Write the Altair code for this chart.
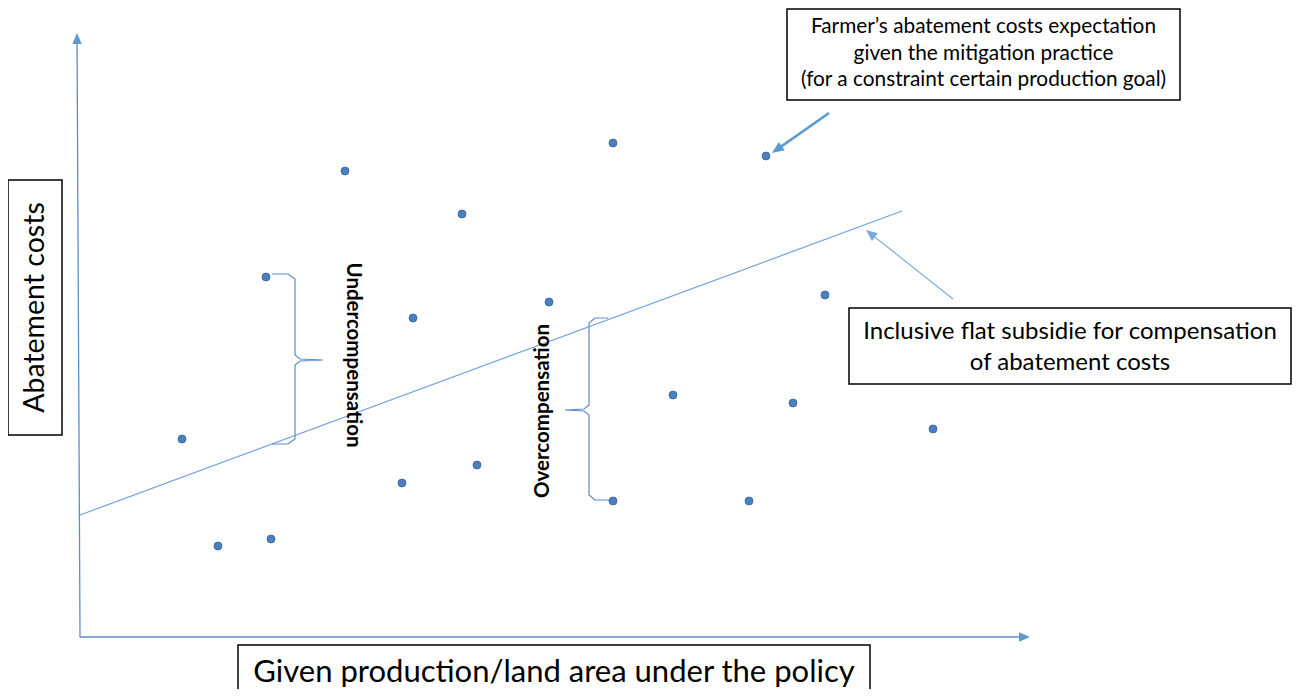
import altair as alt
import pandas as pd
import numpy as np

# ---------------- data (diagram units, origin at the axes' corner) ----------------
# farmer's abatement-cost expectations (scatter)
pt_x = [102, 138, 191, 186, 265, 333, 322, 382, 397, 469, 533, 533, 593, 669, 686, 713, 745, 853]
pt_y = [198, 91, 98, 360, 466, 319, 154, 423, 172, 335, 494, 136, 242, 136, 481, 234, 342, 208]

# inclusive flat subsidy line
sub_x = [0, 822]
sub_y = [122, 426]

# axes (start -> arrow tip)
yaxis_x = [0, -3]
yaxis_y = [0, 604]
xaxis_x = [0, 950]
xaxis_y = [0, 0]

# braces
under_x = [192, 208, 215, 215, 220, 243, 220, 215, 215, 208, 192]
under_y = [363, 363, 358, 282, 278, 277, 276, 272, 198, 193, 193]
over_x = [528, 515, 509, 509, 504, 485, 504, 509, 509, 515, 530]
over_y = [319, 319, 314, 232, 228, 227, 226, 222, 142, 137, 137]

# callout arrows (start -> tip)
call1_x = [749, 692]
call1_y = [524, 484]
call2_x = [873, 786]
call2_y = [338, 407]

# text boxes
box_x1 = [-72, 158, 707, 769]
box_x2 = [-18, 790, 1100, 1211]
box_y1 = [457, -8, 628, 329]
box_y2 = [202, -70, 537, 253]

y_title = "Abatement costs"
x_title = "Given production/land area under the policy"
note_top = "Farmer’s abatement costs expectation\ngiven the mitigation practice\n(for a constraint certain production goal)"
note_mid = "Inclusive flat subsidie for compensation\nof abatement costs"
lab_under = "Undercompensation"
lab_over = "Overcompensation"

# ---------------- build tables ----------------
XD = [-72, 1212]
YD = [-52, 629]
xs = alt.Scale(domain=XD)
ys = alt.Scale(domain=YD)
FONT = "Lato"


def path_df(groups):
    rows = []
    for gid, (gx, gy) in enumerate(groups):
        for i, (a, b) in enumerate(zip(gx, gy)):
            rows.append({"x": a, "y": b, "g": gid, "o": i})
    return pd.DataFrame(rows)


def arrow(gx, gy, head_len):
    x0, x1 = gx
    y0, y1 = gy
    dx, dy = x1 - x0, y1 - y0
    L = np.hypot(dx, dy)
    ux, uy = dx / L, dy / L
    shaft = ([x0, x1 - ux * head_len * 0.7], [y0, y1 - uy * head_len * 0.7])
    ang = float(np.degrees(np.arctan2(dx, dy)) % 360)
    return shaft, {"x": x1, "y": y1, "ang": ang}


HEAD = "M0,0L0.85,2L-0.85,2Z"

ax_y_shaft, ax_y_head = arrow(yaxis_x, yaxis_y, 11)
ax_x_shaft, ax_x_head = arrow(xaxis_x, xaxis_y, 11)
c1_shaft, c1_head = arrow(call1_x, call1_y, 12)
c2_shaft, c2_head = arrow(call2_x, call2_y, 12)


def line_layer(groups, color, width, opacity=1.0):
    return alt.Chart(path_df(groups)).mark_line(
        color=color, strokeWidth=width, opacity=opacity, strokeCap="butt"
    ).encode(
        x=alt.X("x:Q", scale=xs, axis=None),
        y=alt.Y("y:Q", scale=ys, axis=None),
        detail="g:N",
        order="o:Q",
    )


def head_layer(heads, color, size):
    return alt.Chart(pd.DataFrame(heads)).mark_point(
        shape=HEAD, filled=True, color=color, opacity=1, size=size
    ).encode(
        x=alt.X("x:Q", scale=xs, axis=None),
        y=alt.Y("y:Q", scale=ys, axis=None),
        angle=alt.Angle("ang:Q", scale=None),
    )


axes = line_layer([ax_y_shaft, ax_x_shaft], "#5b8fcc", 1.3)
axes_heads = head_layer([ax_y_head, ax_x_head], "#5b9bd5", 121)

subsidy = line_layer([(sub_x, sub_y)], "#6fa3dc", 1.2)
braces = line_layer([(under_x, under_y), (over_x, over_y)], "#5b8cc8", 1.2)

call1 = line_layer([c1_shaft], "#5b9bd5", 2.6)
call1_head = head_layer([c1_head], "#5b9bd5", 144)
call2 = line_layer([c2_shaft], "#7aa9dc", 1.1)
call2_head = head_layer([c2_head], "#7aa9dc", 130)

points = alt.Chart(pd.DataFrame({"x": pt_x, "y": pt_y})).mark_circle(
    size=62, color="#4a7fc0", opacity=1, stroke="#3b6aa3", strokeWidth=1
).encode(
    x=alt.X("x:Q", scale=xs, axis=None),
    y=alt.Y("y:Q", scale=ys, axis=None),
)

boxes = alt.Chart(pd.DataFrame({"x": box_x1, "x2": box_x2, "y": box_y1, "y2": box_y2})).mark_rect(
    fill="white", stroke="black", strokeWidth=1.5
).encode(
    x=alt.X("x:Q", scale=xs, axis=None),
    x2="x2:Q",
    y=alt.Y("y:Q", scale=ys, axis=None),
    y2="y2:Q",
)


def text_layer(txt, cx, cy, size, angle=0, bold=False, line_h=None):
    kw = dict(
        font=FONT, fontSize=size, color="black", align="center", baseline="middle",
        fontWeight="bold" if bold else "normal", angle=angle,
    )
    if line_h is not None:
        kw["lineBreak"] = "\n"
        kw["lineHeight"] = line_h
    return alt.Chart(pd.DataFrame({"x": [cx], "y": [cy], "t": [txt]})).mark_text(**kw).encode(
        x=alt.X("x:Q", scale=xs, axis=None),
        y=alt.Y("y:Q", scale=ys, axis=None),
        text="t:N",
    )


t_y = text_layer(y_title, (box_x1[0] + box_x2[0]) / 2, (box_y1[0] + box_y2[0]) / 2, 28.5, angle=270)
t_x = text_layer(x_title, (box_x1[1] + box_x2[1]) / 2, -36, 31)
t_top = text_layer(note_top, (box_x1[2] + box_x2[2]) / 2, 610, 20.8, line_h=26.5)
t_mid = text_layer(note_mid, (box_x1[3] + box_x2[3]) / 2, 305, 24, line_h=31)
t_under = text_layer(lab_under, 273, 282, 20.5, angle=90, bold=True)
t_over = text_layer(lab_over, 463, 226, 20.5, angle=270, bold=True)

chart = alt.layer(
    axes, axes_heads, subsidy, braces, call1, call1_head, call2, call2_head,
    points, boxes, t_y, t_x, t_top, t_mid, t_under, t_over,
).properties(
    width=1284, height=681, padding=0, autosize=alt.AutoSizeParams(type="none"),
    background="white",
).configure_view(stroke=None)

chart.save("out.html", embed_options={"renderer": "svg", "actions": False})
